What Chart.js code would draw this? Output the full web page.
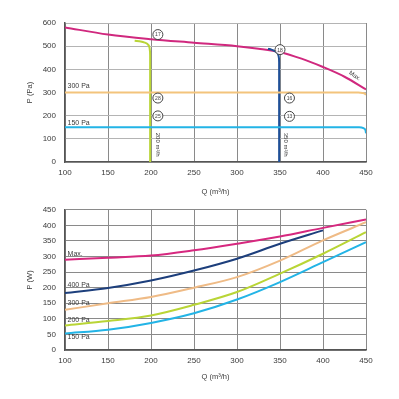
<!DOCTYPE html>
<html>
<head>
<meta charset="utf-8">
<script src="https://cdn.jsdelivr.net/npm/chart.js@4"></script>
<style>
  html, body { margin: 0; padding: 0; background: #fff; }
  .box { position: absolute; left: 0; width: 399px; }
  #top { top: 0; height: 200px; }
  #bot { top: 196px; height: 203px; }
</style>
</head>
<body>
<div class="box" id="top"><canvas id="pressureChart"></canvas></div>
<div class="box" id="bot"><canvas id="powerChart"></canvas></div>
<script>
// ============================================================
// Data
// ============================================================

// upper chart: P (Pa) against Q (m3/h)
const maxQ = [100, 150, 200, 250, 300, 325, 350, 375, 400, 425, 450];
const maxP = [581, 550, 530, 515, 500, 489, 474, 446, 410, 368, 313];

const pa300Q = [100, 441, 446, 449, 450];
const pa300P = [300, 300, 298, 294, 290];

const pa150Q = [100, 442, 447, 449.5, 450];
const pa150P = [150, 150, 146, 136, 124];

const flow200Q = [199, 199, 198.5, 197, 193, 188, 181];
const flow200P = [0, 460, 488, 505, 515, 520, 523];

const flow350Q = [349, 349, 348.5, 347, 344, 340, 336];
const flow350P = [0, 430, 455, 470, 479, 485, 489];

// lower chart: P (W) against Q (m3/h)
const powerQ = [100, 150, 200, 250, 300, 350, 400, 450];
const powerMax = [290, 296, 303, 320, 341, 364, 392, 419];
const power400 = [183, 199, 223, 255, 293, 341, 384];
const power300 = [129, 150, 170, 200, 234, 287, 352, 410];
const power200 = [79, 93, 111, 145, 186, 245, 309, 378];
const power150 = [53, 65, 87, 118, 162, 218, 282, 346];

const FONT = "'Liberation Sans', Arial, sans-serif";
const TEXT = '#3a3a3a';

function pts(xs, ys) {
    return ys.map((y, i) => ({ x: xs[i], y: y }));
}

function line(label, xs, ys, color, extra) {
    return Object.assign({
        label,
        data: pts(xs, ys),
        showLine: true,
        borderColor: color,
        borderWidth: 2,
        pointRadius: 0,
        fill: false,
        cubicInterpolationMode: 'monotone'
    }, extra || {});
}

// ============================================================
// Text + circled numbers drawn at data positions
// ============================================================

const notesPlugin = {
    id: 'notes',
    afterDatasetsDraw(chart, args, opts) {
        const ctx = chart.ctx;
        const xs = chart.scales.x, ys = chart.scales.y;
        ctx.save();
        (opts.texts || []).forEach(t => {
            ctx.save();
            ctx.translate(xs.getPixelForValue(t.q), ys.getPixelForValue(t.p));
            ctx.rotate((t.rot || 0) * Math.PI / 180);
            ctx.font = (t.size || 7) + 'px ' + FONT;
            ctx.fillStyle = TEXT;
            ctx.textAlign = t.align || 'left';
            ctx.textBaseline = 'middle';
            ctx.fillText(t.text, 0, 0);
            ctx.restore();
        });
        (opts.circles || []).forEach(c => {
            const px = xs.getPixelForValue(c.q), py = ys.getPixelForValue(c.p);
            ctx.beginPath();
            ctx.arc(px, py, 5, 0, Math.PI * 2);
            ctx.fillStyle = 'rgba(255,255,255,0.85)';
            ctx.fill();
            ctx.lineWidth = 1;
            ctx.strokeStyle = '#444';
            ctx.stroke();
            ctx.font = '5px ' + FONT;
            ctx.fillStyle = '#444';
            ctx.textAlign = 'center';
            ctx.textBaseline = 'middle';
            ctx.fillText(c.text, px, py + 0.5);
        });
        ctx.restore();
    }
};

function axes(yMax, yStep, yTitle, hGrid, xHeight) {
    return {
        x: {
            type: 'linear', min: 100, max: 450,
            border: { color: '#555', width: 1.5 },
            grid: { color: '#8a8a8a', drawTicks: false },
            ticks: { stepSize: 50, padding: 6, color: TEXT, font: { family: FONT, size: 8 } },
            title: { display: true, text: 'Q (m\u00B3/h)', color: TEXT, font: { family: FONT, size: 7.5 } },
            afterFit: s => { s.height = xHeight; }
        },
        y: {
            min: 0, max: yMax,
            border: { color: '#555', width: 1.5 },
            grid: { color: hGrid, drawTicks: false },
            ticks: { stepSize: yStep, padding: 9, color: TEXT, font: { family: FONT, size: 8 } },
            title: { display: true, text: yTitle, color: TEXT, font: { family: FONT, size: 7.5 } },
            afterFit: s => { s.width = 44; }
        }
    };
}

// ============================================================
// Upper chart
// ============================================================

new Chart(document.getElementById('pressureChart'), {
    type: 'scatter',
    data: {
        datasets: [
            line('150 Pa', pa150Q, pa150P, '#23b4e6'),
            line('300 Pa', pa300Q, pa300P, '#f3c47c'),
            line('200 m3/h', flow200Q, flow200P, '#b9d536', { indexAxis: 'y' }),
            line('350 m3/h', flow350Q, flow350P, '#1f4f97', { indexAxis: 'y' }),
            line('Max.', maxQ, maxP, '#d0287e')
        ]
    },
    options: {
        responsive: true,
        maintainAspectRatio: false,
        animation: false,
        layout: { padding: { top: 23, right: 33, left: 21, bottom: 0 } },
        plugins: {
            legend: { display: false },
            tooltip: { enabled: false },
            notes: {
                texts: [
                    { q: 103, p: 326, text: '300 Pa' },
                    { q: 103, p: 170, text: '150 Pa' },
                    { q: 437, p: 372, text: 'Max.', rot: 33, align: 'center', size: 6 },
                    { q: 208, p: 75, text: '200 m\u00B3/h', rot: 90, align: 'center', size: 6 },
                    { q: 357, p: 75, text: '350 m\u00B3/h', rot: 90, align: 'center', size: 6 }
                ],
                circles: [
                    { q: 208, p: 550, text: '17' },
                    { q: 350, p: 485, text: '18' },
                    { q: 208, p: 276, text: '28' },
                    { q: 208, p: 199, text: '25' },
                    { q: 361, p: 276, text: '16' },
                    { q: 361, p: 197, text: '13' }
                ]
            }
        },
        scales: axes(600, 100, 'P (Pa)', '#b4b4b4', 38)
    },
    plugins: [notesPlugin]
});

// ============================================================
// Lower chart
// ============================================================

new Chart(document.getElementById('powerChart'), {
    type: 'scatter',
    data: {
        datasets: [
            line('150 Pa', powerQ, power150, '#23b4e6'),
            line('200 Pa', powerQ, power200, '#b9d536'),
            line('300 Pa', powerQ, power300, '#efbb86'),
            line('400 Pa', powerQ.slice(0, power400.length), power400, '#1d3f7c'),
            line('Max.', powerQ, powerMax, '#d6287f')
        ]
    },
    options: {
        responsive: true,
        maintainAspectRatio: false,
        animation: false,
        layout: { padding: { top: 13, right: 33, left: 21, bottom: 14 } },
        plugins: {
            legend: { display: false },
            tooltip: { enabled: false },
            notes: {
                texts: [
                    { q: 103, p: 309, text: 'Max.' },
                    { q: 103, p: 207, text: '400 Pa' },
                    { q: 103, p: 152, text: '300 Pa' },
                    { q: 103, p: 96, text: '200 Pa' },
                    { q: 103, p: 41, text: '150 Pa' }
                ]
            }
        },
        scales: axes(450, 50, 'P (W)', '#8a8a8a', 35)
    },
    plugins: [notesPlugin]
});
</script>
</body>
</html>
